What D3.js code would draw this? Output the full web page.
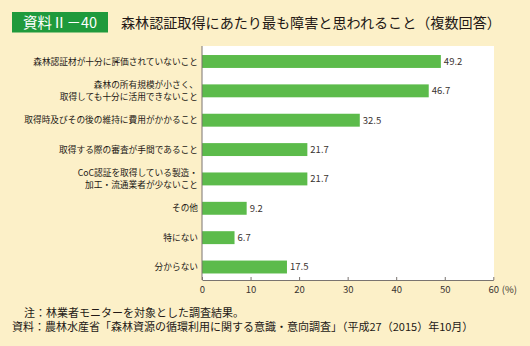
<!DOCTYPE html>
<html>
<head>
<meta charset="utf-8">
<script src="https://cdn.jsdelivr.net/npm/d3@7"></script>
<style>
  html, body { margin: 0; padding: 0; background: #fcf0c8; }
  svg { display: block; }
  text { font-family: "Noto Sans CJK JP", "Noto Sans", sans-serif; }
</style>
</head>
<body>
<svg id="chart" width="530" height="346"></svg>
<script>
// Survey categories (multi-line labels split into lines)
const categories = [
  ["森林認証材が十分に評価されていないこと"],
  ["森林の所有規模が小さく、", "取得しても十分に活用できないこと"],
  ["取得時及びその後の維持に費用がかかること"],
  ["取得する際の審査が手間であること"],
  ["CoC認証を取得している製造・", "加工・流通業者が少ないこと"],
  ["その他"],
  ["特にない"],
  ["分からない"]
];
// Share of respondents (%)
const values = [49.2, 46.7, 32.5, 21.7, 21.7, 9.2, 6.7, 17.5];
const xTicks = [0, 10, 20, 30, 40, 50, 60];

const svg = d3.select("#chart");

const plot = { left: 202, right: 494, top: 46, bottom: 280 };

// Title badge and heading
svg.append("rect")
  .attr("x", 12).attr("y", 12).attr("width", 96).attr("height", 20.5)
  .attr("fill", "#1f9a3c");
svg.append("text")
  .attr("x", 60).attr("y", 27.5)
  .attr("text-anchor", "middle")
  .attr("fill", "#ffffff")
  .attr("font-size", 14.5)
  .attr("font-weight", 400)
  .text("資料Ⅱ－40");
svg.append("text")
  .attr("x", 121).attr("y", 27.5)
  .attr("fill", "#231815")
  .attr("font-size", 14.1)
  .attr("font-weight", 400)
  .text("森林認証取得にあたり最も障害と思われること（複数回答）");

// White plot panel
svg.append("rect")
  .attr("x", plot.left).attr("y", plot.top)
  .attr("width", plot.right - plot.left).attr("height", plot.bottom - plot.top)
  .attr("fill", "#ffffff");

const x = d3.scaleLinear().domain([0, 60]).range([plot.left, plot.left + 291.3]);
const y = d3.scaleBand()
  .domain(d3.range(categories.length))
  .range([46.8, 281.7])
  .paddingInner(0.56)
  .paddingOuter(0.28);

// Bars
svg.append("g").selectAll("rect")
  .data(values)
  .join("rect")
  .attr("x", x(0))
  .attr("y", (d, i) => y(i))
  .attr("width", d => x(d) - x(0))
  .attr("height", y.bandwidth())
  .attr("fill", "#5cbb4b");

// Value labels
svg.append("g").selectAll("text")
  .data(values)
  .join("text")
  .attr("x", d => x(d) + 3)
  .attr("y", (d, i) => y(i) + y.bandwidth() / 2 + 3.3)
  .attr("font-family", "Arial, 'Liberation Sans', sans-serif")
  .attr("font-size", 9.5)
  .attr("fill", "#3a3330")
  .text(d => d.toFixed(1));

// Category labels
const lineH = 11.6;
const catG = svg.append("g");
categories.forEach((lines, i) => {
  const cy = y(i) + y.bandwidth() / 2;
  const t = catG.append("text")
    .attr("text-anchor", "end")
    .attr("font-size", 8.7)
    .attr("fill", "#231815");
  lines.forEach((ln, k) => {
    t.append("tspan")
      .attr("x", 198)
      .attr("y", cy + 3.1 + (k - (lines.length - 1) / 2) * lineH)
      .text(ln);
  });
});

// Axes
const axisColor = "#7a7470";
svg.append("line")
  .attr("x1", plot.left).attr("x2", plot.left)
  .attr("y1", plot.top).attr("y2", plot.bottom)
  .attr("stroke", axisColor).attr("stroke-width", 1);

const xAxis = svg.append("g")
  .attr("transform", `translate(0,${plot.bottom})`)
  .call(d3.axisBottom(x).tickValues(xTicks).tickSizeInner(-3).tickSizeOuter(0).tickPadding(6));
xAxis.select(".domain").attr("stroke", axisColor);
xAxis.selectAll(".tick line").attr("stroke", axisColor);
xAxis.selectAll(".tick text")
  .attr("font-family", "Arial, 'Liberation Sans', sans-serif")
  .attr("font-size", 9.5)
  .attr("fill", "#3a3330");

svg.append("text")
  .attr("x", x(60) + 8.5).attr("y", plot.bottom + 12.5)
  .attr("font-size", 9.5)
  .attr("fill", "#3a3330")
  .text("(%)");

// Footnotes
svg.append("text")
  .attr("x", 24).attr("y", 316.5)
  .attr("font-size", 11)
  .attr("fill", "#231815")
  .text("注：林業者モニターを対象とした調査結果。");
svg.append("text")
  .attr("x", 12).attr("y", 331)
  .attr("font-size", 11)
  .attr("fill", "#231815")
  .text("資料：農林水産省「森林資源の循環利用に関する意識・意向調査」（平成27（2015）年10月）");
</script>
</body>
</html>
